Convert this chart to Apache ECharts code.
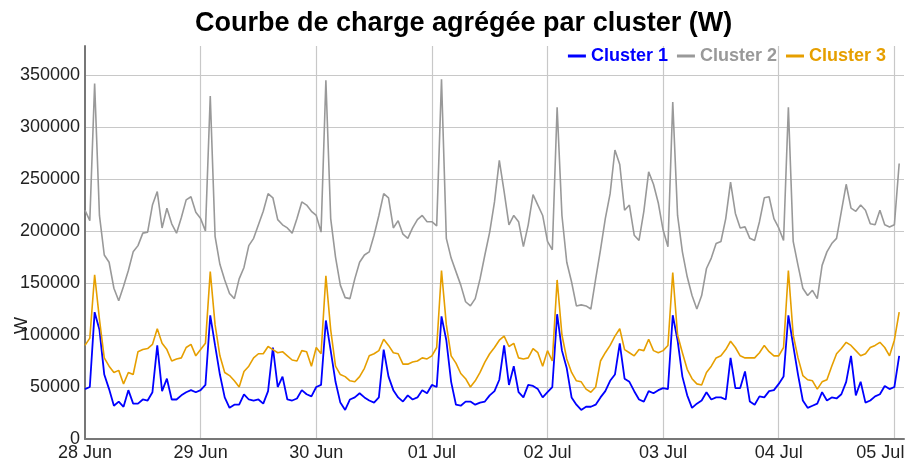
<!DOCTYPE html>
<html>
<head>
<meta charset="utf-8">
<script src="https://cdn.jsdelivr.net/npm/echarts@6/dist/echarts.min.js"></script>
<style>
  html, body { margin: 0; padding: 0; background: #ffffff; }
  #chart { width: 906px; height: 463px; }
</style>
</head>
<body>
<div id="chart"></div>
<script>
// Hourly aggregated load (W), starting 28 Jun 00:00
const dayLabels = ['28 Jun', '29 Jun', '30 Jun', '01 Jul', '02 Jul', '03 Jul', '04 Jul', '05 Jul'];
const seriesNames = ['Cluster 1', 'Cluster 2', 'Cluster 3'];

const cluster1 = [
  48000, 50000, 122000, 105000, 62000, 48000, 32000, 36000, 31000, 47000, 34000, 34000, 38000, 37000, 45000, 90000, 46000, 58000, 38000, 38000, 42000, 45000, 47000, 45000,
  47000, 52000, 119000, 90000, 62000, 40000, 30000, 33000, 33000, 43000, 38000, 37000, 38000, 34000, 46000, 88000, 50000, 60000, 38000, 37000, 39000, 47000, 43000, 41000,
  50000, 52000, 114000, 85000, 55000, 35000, 28000, 38000, 40000, 44000, 40000, 37000, 35000, 40000, 86000, 60000, 47000, 40000, 36000, 42000, 38000, 40000, 47000, 44000,
  52000, 50000, 118000, 95000, 55000, 33000, 32000, 36000, 36000, 33000, 35000, 36000, 42000, 46000, 57000, 90000, 52000, 70000, 45000, 40000, 52000, 51000, 48000, 40000,
  45000, 50000, 120000, 85000, 68000, 40000, 33000, 28000, 31000, 31000, 33000, 40000, 46000, 56000, 62000, 92000, 58000, 55000, 46000, 38000, 36000, 46000, 44000, 47000,
  49000, 48000, 119000, 95000, 60000, 42000, 30000, 34000, 37000, 45000, 38000, 40000, 40000, 38000, 78000, 49000, 49000, 65000, 36000, 33000, 41000, 40000, 46000, 47000,
  53000, 60000, 119000, 90000, 62000, 37000, 30000, 32000, 34000, 45000, 37000, 40000, 39000, 43000, 55000, 80000, 42000, 55000, 35000, 37000, 41000, 43000, 51000, 48000,
  50000, 80000
];

const cluster2 = [
  220000, 210000, 342000, 215000, 177000, 170000, 145000, 133000, 147000, 162000, 180000, 186000, 198000, 199000, 225000, 238000, 203000, 222000, 207000, 198000, 213000, 230000, 233000, 218000,
  212000, 200000, 330000, 195000, 168000, 153000, 140000, 135000, 154000, 165000, 186000, 193000, 206000, 219000, 236000, 232000, 211000, 206000, 203000, 198000, 212000, 228000, 225000, 219000,
  215000, 199000, 345000, 212000, 175000, 148000, 136000, 135000, 154000, 170000, 177000, 180000, 196000, 215000, 236000, 232000, 203000, 210000, 197000, 193000, 203000, 211000, 215000, 209000,
  209000, 205000, 346000, 193000, 174000, 161000, 148000, 132000, 128000, 135000, 154000, 177000, 199000, 228000, 268000, 238000, 206000, 215000, 209000, 185000, 206000, 235000, 225000, 215000,
  190000, 182000, 319000, 215000, 170000, 151000, 128000, 129000, 128000, 125000, 154000, 182000, 212000, 236000, 278000, 264000, 220000, 225000, 196000, 191000, 219000, 257000, 245000, 227000,
  201000, 185000, 324000, 215000, 180000, 156000, 138000, 125000, 138000, 164000, 174000, 188000, 190000, 212000, 247000, 217000, 203000, 204000, 193000, 191000, 209000, 232000, 233000, 212000,
  203000, 191000, 319000, 190000, 167000, 145000, 138000, 143000, 135000, 167000, 180000, 188000, 193000, 219000, 245000, 222000, 219000, 225000, 220000, 207000, 206000, 220000, 206000, 204000,
  206000, 265000
];

const cluster3 = [
  90000, 97000, 158000, 115000, 78000, 70000, 64000, 66000, 53000, 64000, 62000, 84000, 86000, 87000, 91000, 106000, 92000, 86000, 75000, 77000, 78000, 88000, 91000, 80000,
  86000, 92000, 161000, 110000, 80000, 64000, 61000, 56000, 50000, 65000, 70000, 78000, 82000, 82000, 89000, 86000, 83000, 84000, 80000, 76000, 75000, 85000, 84000, 70000,
  88000, 82000, 157000, 105000, 70000, 62000, 60000, 56000, 55000, 60000, 68000, 80000, 82000, 85000, 96000, 90000, 83000, 82000, 72000, 72000, 74000, 75000, 78000, 77000,
  80000, 88000, 162000, 110000, 80000, 73000, 63000, 58000, 50000, 56000, 64000, 74000, 82000, 88000, 95000, 99000, 89000, 92000, 78000, 77000, 78000, 87000, 83000, 70000,
  85000, 75000, 153000, 100000, 77000, 64000, 56000, 55000, 48000, 45000, 50000, 75000, 83000, 90000, 99000, 106000, 86000, 83000, 80000, 86000, 85000, 96000, 85000, 83000,
  85000, 90000, 160000, 100000, 83000, 67000, 58000, 53000, 52000, 64000, 70000, 78000, 80000, 86000, 94000, 88000, 80000, 78000, 78000, 78000, 83000, 90000, 84000, 80000,
  80000, 88000, 162000, 100000, 78000, 61000, 57000, 56000, 48000, 55000, 57000, 70000, 82000, 87000, 93000, 90000, 85000, 80000, 82000, 88000, 90000, 93000, 88000, 80000,
  95000, 122000
];

const colors = ['#0000FF', '#999999', '#E69F00'];
const allSeries = [cluster1, cluster2, cluster3];

const chart = echarts.init(document.getElementById('chart'), null, { renderer: 'canvas' });

// Day labels; the last one is nudged left so it stays inside the canvas
function dayLabel(v) {
  if (v % 24 !== 0) return '';
  const i = v / 24;
  return i === dayLabels.length - 1 ? '{last|' + dayLabels[i] + '}' : dayLabels[i];
}

chart.setOption({
  animation: false,
  backgroundColor: '#ffffff',
  title: {
    text: 'Courbe de charge agrégée par cluster (W)',
    left: 190,
    top: 5,
    textStyle: { fontFamily: 'Liberation Sans, Arial, sans-serif', fontSize: 27, fontWeight: 'bold', color: '#000000' }
  },
  legend: {
    right: 15,
    top: 42,
    icon: 'rect',
    itemWidth: 18,
    itemHeight: 3,
    itemGap: 9,
    textStyle: { fontFamily: 'Liberation Sans, Arial, sans-serif', fontSize: 18, fontWeight: 'bold' },
    data: seriesNames.map((n, i) => ({ name: n, textStyle: { color: colors[i] } }))
  },
  grid: { left: 85, right: 2, top: 46, bottom: 24, containLabel: false, outerBoundsMode: 'none' },
  xAxis: {
    type: 'value',
    min: 0,
    max: 170,
    interval: 24,
    axisLine: { show: true, lineStyle: { color: '#777777', width: 2 } },
    axisTick: { show: false },
    axisLabel: {
      color: '#222222',
      fontFamily: 'Liberation Sans, Arial, sans-serif',
      fontSize: 18,
      margin: 5,
      showMaxLabel: false,
      hideOverlap: false,
      formatter: dayLabel,
      rich: {
        last: {
          color: '#222222',
          fontFamily: 'Liberation Sans, Arial, sans-serif',
          fontSize: 18,
          padding: [0, 28, 0, 0]
        }
      }
    },
    splitLine: { show: true, showMinLine: false, showMaxLine: false, lineStyle: { color: '#c8c8c8', width: 1.2 } }
  },
  yAxis: {
    type: 'value',
    min: 0,
    max: 378000,
    interval: 50000,
    axisLine: { show: true, lineStyle: { color: '#777777', width: 2 } },
    axisTick: { show: false },
    axisLabel: {
      color: '#222222',
      fontFamily: 'Liberation Sans, Arial, sans-serif',
      fontSize: 18,
      margin: 5,
      showMaxLabel: false,
      formatter: v => (v % 50000 === 0 ? String(v) : '')
    },
    splitLine: { show: true, showMaxLine: false, lineStyle: { color: '#c8c8c8', width: 1.2 } }
  },
  graphic: [{
    type: 'text',
    x: 13,
    y: 334,
    rotation: Math.PI / 2,
    style: { text: 'W', font: '18px "Liberation Sans", Arial, sans-serif', fill: '#222222' }
  }],
  series: allSeries.map((vals, i) => ({
    name: seriesNames[i],
    type: 'line',
    showSymbol: false,
    symbol: 'none',
    data: vals.map((v, h) => [h, v]),
    lineStyle: { color: colors[i], width: i === 0 ? 1.8 : 1.6 },
    itemStyle: { color: colors[i] }
  }))
});
</script>
</body>
</html>
